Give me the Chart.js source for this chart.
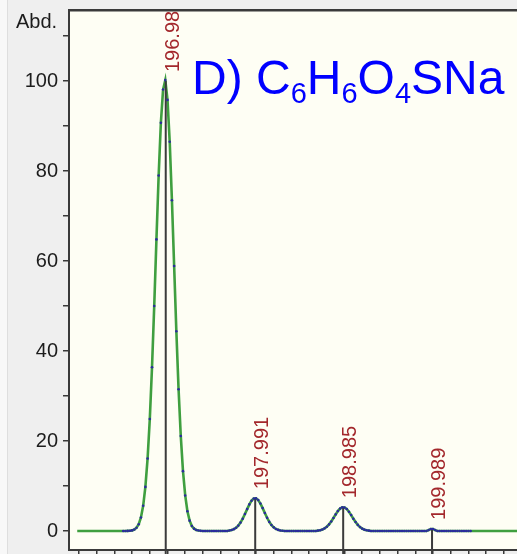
<!DOCTYPE html>
<html><head><meta charset="utf-8">
<script src="https://cdn.jsdelivr.net/npm/chart.js@4/dist/chart.umd.min.js"></script>
<style>
html,body{margin:0;padding:0;background:#efefef;overflow:hidden;width:517px;height:554px;}
#strip{position:absolute;left:0;top:0;width:7px;height:554px;background:#f8f8f8;border-right:1px solid #dedede;}
#wrap{position:absolute;left:0;top:0;width:517px;height:554px;}
</style></head><body>
<div id="strip"></div>
<div id="wrap"><canvas id="c" width="517" height="554"></canvas></div>
<script>
// ---- data ----
const profileMass = [
196.500,196.525,196.550,196.575,196.600,196.625,196.650,196.675,
196.700,196.725,196.750,196.775,196.800,196.825,196.850,196.875,
196.900,196.925,196.950,196.975,197.000,197.025,197.050,197.075,
197.100,197.125,197.150,197.175,197.200,197.225,197.250,197.275,
197.300,197.325,197.350,197.375,197.400,197.425,197.450,197.475,
197.500,197.525,197.550,197.575,197.600,197.625,197.650,197.675,
197.700,197.725,197.750,197.775,197.800,197.825,197.850,197.875,
197.900,197.925,197.950,197.975,198.000,198.025,198.050,198.075,
198.100,198.125,198.150,198.175,198.200,198.225,198.250,198.275,
198.300,198.325,198.350,198.375,198.400,198.425,198.450,198.475,
198.500,198.525,198.550,198.575,198.600,198.625,198.650,198.675,
198.700,198.725,198.750,198.775,198.800,198.825,198.850,198.875,
198.900,198.925,198.950,198.975,199.000,199.025,199.050,199.075,
199.100,199.125,199.150,199.175,199.200,199.225,199.250,199.275,
199.300,199.325,199.350,199.375,199.400,199.425,199.450,199.475,
199.500,199.525,199.550,199.575,199.600,199.625,199.650,199.675,
199.700,199.725,199.750,199.775,199.800,199.825,199.850,199.875,
199.900,199.925,199.950,199.975,200.000,200.025,200.050,200.075,
200.100,200.125,200.150,200.175,200.200,200.225,200.250,200.275,
200.300,200.325,200.350,200.375,200.400,200.425
];
const profileAbd = [
0,0,0.02,0.05,0.14,0.33,0.73,1.5,
3.0,5.6,9.8,16.1,24.9,36.4,50.0,64.8,
79.0,90.7,98.1,100.2,95.8,86.5,73.5,58.9,
44.4,31.5,21.1,13.3,7.9,4.4,2.3,1.1,
0.53,0.23,0.1,0.04,0,0,0,0,
0,0,0,0,0,0,0,0,
0.11,0.22,0.41,0.72,1.2,1.87,2.74,3.77,
4.87,5.91,6.74,7.22,7.26,6.87,6.1,5.09,
3.99,2.94,2.03,1.32,0.81,0.46,0.25,0.13,
0.06,0,0,0,0,0,0,0,
0,0,0,0,0,0,0,0,
0.09,0.18,0.33,0.59,0.96,1.47,2.13,2.89,
3.69,4.43,4.98,5.27,5.24,4.89,4.29,3.54,
2.74,1.99,1.36,0.87,0.53,0.3,0.16,0.08,
0,0,0,0,0,0,0,0,
0,0,0,0,0,0,0,0,
0,0,0,0,0,0,0,0,
0,0,0.2,0.45,0.45,0.2,0,0,
0,0,0,0,0,0,0,0,
0,0,0,0,0,0
];
const traceEndsMass = [195.98, 201.3];   // green trace baseline extends to these masses
const stickMass   = [196.98, 197.991, 198.985, 199.989];
const stickAbd    = [100, 7.3, 5.3, 0.45];
const stickLabels = ['196.98', '197.991', '198.985', '199.989'];
const yTickLabels = ['0', '20', '40', '60', '80', '100'];
const axisTitle   = 'Abd.';
const titleParts  = [['D) C', false], ['6', true], ['H', false], ['6', true], ['O', false], ['4', true], ['SNa', false]];

// ---- axis ranges ----
const X_MIN = 195.887, X_MAX = 200.949, Y_MIN = -4.22, Y_MAX = 115.56;
const STICK_FLOOR = -5.2;   // sticks run slightly past the bottom axis line

const profilePoints = profileMass.map((m, i) => ({x: m, y: profileAbd[i]}));
const greenPoints = [{x: traceEndsMass[0], y: 0}, ...profilePoints, {x: traceEndsMass[1], y: 0}];

const FONT = '"Liberation Sans", Arial, sans-serif';

const datasets = [
  {type: 'scatter', data: profilePoints, showLine: false, pointRadius: 1.3, pointBackgroundColor: '#2a2a9e', pointBorderWidth: 0, order: 0},
  ...stickMass.map((m, i) => ({
    type: 'line', data: [{x: m, y: stickAbd[i]}, {x: m, y: STICK_FLOOR}],
    borderColor: '#3b3b3b', borderWidth: 2, pointRadius: 0, order: 1,
    clip: {left: 0, top: 0, right: 0, bottom: 6}
  })),
  {type: 'line', data: greenPoints, borderColor: '#3f9f3f', borderWidth: 2.6, pointRadius: 0, tension: 0, order: 2}
];

const decor = {
  id: 'decor',
  beforeDraw(chart) {
    const {ctx, chartArea: a} = chart;
    ctx.save();
    ctx.fillStyle = '#fefef4';
    ctx.fillRect(a.left, a.top, a.right - a.left, a.bottom - a.top);
    ctx.restore();
  },
  afterDatasetsDraw(chart) {
    const {ctx, chartArea: a, scales: {x, y}} = chart;
    ctx.save();
    ctx.beginPath(); ctx.rect(a.left, a.top, a.right - a.left, a.bottom - a.top); ctx.clip();
    ctx.fillStyle = '#a3282c';
    ctx.font = '20px ' + FONT;
    ctx.textAlign = 'left'; ctx.textBaseline = 'alphabetic';
    stickLabels.forEach((t, i) => {
      const px = x.getPixelForValue(stickMass[i]);
      const py = y.getPixelForValue(stickAbd[i]);
      ctx.save(); ctx.translate(px + 13, py - 9); ctx.rotate(-Math.PI / 2); ctx.fillText(t, 0, 0); ctx.restore();
    });
    ctx.restore();
  },
  afterDraw(chart) {
    const {ctx, chartArea: a} = chart;
    ctx.save();
    ctx.strokeStyle = '#3a3a3a'; ctx.lineWidth = 2.5;
    ctx.beginPath(); ctx.moveTo(a.left - 1, a.top - 0.75); ctx.lineTo(chart.width, a.top - 0.75); ctx.stroke();
    ctx.fillStyle = '#1c1c1c'; ctx.font = '20px ' + FONT;
    ctx.textAlign = 'left'; ctx.textBaseline = 'alphabetic';
    ctx.fillText(axisTitle, 16, 28);
    let tx = 192;
    ctx.fillStyle = '#0000ff';
    titleParts.forEach(([t, sub]) => {
      ctx.font = (sub ? '29px ' : '48px ') + FONT;
      ctx.fillText(t, tx, sub ? 103 : 94);
      tx += ctx.measureText(t).width;
    });
    ctx.restore();
  }
};

new Chart(document.getElementById('c'), {
  type: 'line',
  data: {datasets},
  options: {
    responsive: false, animation: false, events: [],
    layout: {padding: {top: 11, left: 0, right: 0, bottom: 0}, autoPadding: false},
    plugins: {legend: {display: false}, tooltip: {enabled: false}},
    scales: {
      x: {
        type: 'linear', position: 'bottom', min: X_MIN, max: X_MAX,
        ticks: {display: false, stepSize: 0.2, includeBounds: false, maxTicksLimit: 100},
        grid: {drawOnChartArea: false, drawTicks: true, tickLength: 4, color: '#3a3a3a', lineWidth: 1.5},
        border: {color: '#3a3a3a', width: 2},
        afterFit(s) { s.height = 4; s.paddingLeft = 0; s.paddingRight = 0; }
      },
      y: {
        type: 'linear', position: 'left', min: Y_MIN, max: Y_MAX,
        ticks: {stepSize: 10, includeBounds: false, maxTicksLimit: 100, padding: 5,
                color: '#1c1c1c', font: {family: FONT, size: 20},
                callback: v => yTickLabels.includes(String(v)) ? String(v) : ''},
        grid: {drawOnChartArea: false, drawTicks: true, tickLength: 6, color: '#3a3a3a', lineWidth: 1.5},
        border: {color: '#3a3a3a', width: 2},
        afterFit(s) { s.width = 69; s.paddingTop = 0; s.paddingBottom = 0; }
      }
    }
  },
  plugins: [decor]
});
</script></body></html>
